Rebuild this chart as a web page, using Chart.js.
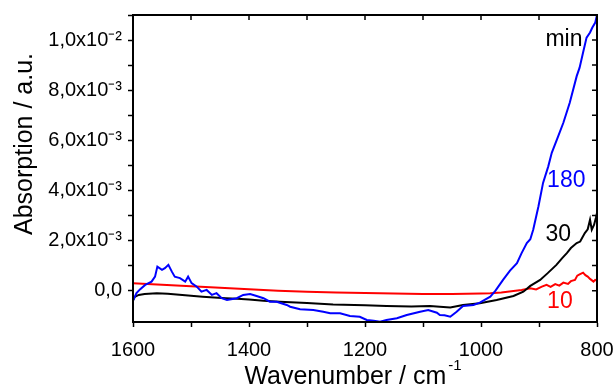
<!DOCTYPE html>
<html><head><meta charset="utf-8">
<script src="https://cdn.jsdelivr.net/npm/chart.js@4/dist/chart.umd.min.js"></script>
<style>html,body{margin:0;padding:0;background:#fff}#wrap{width:616px;height:388px}</style>
</head><body><div id="wrap"><canvas id="c" width="616" height="388"></canvas></div>
<script>
// Wavenumber (cm^-1) and absorption values
const wn180 = [1600,1594,1588,1579,1568,1562,1558,1550,1545,1539,1533,1528,1519,1510,1505,1499,1490,1482,1473,1464,1456,1447,1438,1421,1410,1398,1387,1375,1364,1352,1347,1335,1329,1312,1289,1272,1260,1243,1226,1209,1197,1185,1174,1163,1145,1128,1105,1091,1076,1071,1063,1053,1042,1031,1013,1002,984,975,962,950,938,930,921,915,910,901,893,884,878,867,858,847,835,830,824,818,812,808,803,800];
const abs180 = [-0.40e-3,-0.10e-3,0.05e-3,0.23e-3,0.36e-3,0.56e-3,0.96e-3,0.83e-3,0.90e-3,1.03e-3,0.76e-3,0.56e-3,0.50e-3,0.36e-3,0.56e-3,0.30e-3,0.16e-3,-0.04e-3,0.03e-3,-0.17e-3,-0.10e-3,-0.30e-3,-0.37e-3,-0.30e-3,-0.17e-3,-0.13e-3,-0.21e-3,-0.30e-3,-0.44e-3,-0.44e-3,-0.48e-3,-0.57e-3,-0.64e-3,-0.74e-3,-0.77e-3,-0.84e-3,-0.90e-3,-0.90e-3,-1.01e-3,-1.04e-3,-1.17e-3,-1.20e-3,-1.24e-3,-1.17e-3,-1.10e-3,-0.97e-3,-0.84e-3,-0.77e-3,-0.88e-3,-0.97e-3,-0.98e-3,-1.04e-3,-0.84e-3,-0.61e-3,-0.57e-3,-0.48e-3,-0.24e-3,0.00e-3,0.43e-3,0.80e-3,1.10e-3,1.50e-3,1.90e-3,2.05e-3,2.43e-3,3.36e-3,4.30e-3,4.96e-3,5.50e-3,6.16e-3,6.70e-3,7.50e-3,8.56e-3,8.90e-3,9.50e-3,10.10e-3,10.30e-3,10.50e-3,10.70e-3,11.00e-3];

const wn30 = [1600,1597,1590,1580,1559,1540,1520,1500,1480,1460,1440,1420,1400,1375,1347,1300,1255,1200,1163,1120,1088,1071,1053,1031,1002,973,944,927,915,898,885,870,860,852,845,835,829,821,816,812,809,805,802,800];
const abs30 = [-0.40e-3,-0.25e-3,-0.17e-3,-0.13e-3,-0.10e-3,-0.12e-3,-0.16e-3,-0.20e-3,-0.24e-3,-0.27e-3,-0.30e-3,-0.32e-3,-0.35e-3,-0.40e-3,-0.44e-3,-0.49e-3,-0.55e-3,-0.58e-3,-0.61e-3,-0.63e-3,-0.61e-3,-0.64e-3,-0.67e-3,-0.57e-3,-0.50e-3,-0.37e-3,-0.21e-3,-0.04e-3,0.19e-3,0.43e-3,0.70e-3,1.03e-3,1.30e-3,1.50e-3,1.70e-3,1.90e-3,1.96e-3,2.30e-3,2.45e-3,2.83e-3,2.43e-3,2.63e-3,2.90e-3,3.10e-3];

const wn10 = [1600,1575,1550,1500,1450,1400,1350,1300,1250,1200,1150,1100,1050,1000,984,965,944,930,915,905,895,887,880,872,865,858,850,845,838,834,830,824,820,816,812,806,803,800];
const abs10 = [0.30e-3,0.27e-3,0.24e-3,0.18e-3,0.12e-3,0.06e-3,0.00e-3,-0.04e-3,-0.07e-3,-0.09e-3,-0.11e-3,-0.13e-3,-0.13e-3,-0.11e-3,-0.10e-3,-0.07e-3,-0.01e-3,0.03e-3,0.10e-3,0.05e-3,0.16e-3,0.23e-3,0.15e-3,0.26e-3,0.20e-3,0.32e-3,0.27e-3,0.38e-3,0.43e-3,0.60e-3,0.65e-3,0.72e-3,0.62e-3,0.56e-3,0.47e-3,0.36e-3,0.43e-3,0.42e-3];

// Curve labels: text, wavenumber, absorption (anchor of text), colour
const labelTexts = ['min','180','30','10'];
const labelWn = [889,886,889,886];
const labelAbs = [9.75e-3,4.15e-3,2.0e-3,-0.70e-3];
const labelColors = ['#000000','#0000ff','#000000','#ff0000'];

// Axis titles
const xTitle = 'Wavenumber / cm';
const xTitleSup = '-1';
const yTitle = 'Absorption / a.u.';

const FONT = "'Liberation Sans', Arial, Helvetica, sans-serif";
const pts = (xs, ys) => xs.map((x,i)=>({x:x, y:ys[i]}));

const frame = {
  id:'frame',
  afterDatasetsDraw(chart){
    const {ctx, chartArea:a, scales:{x,y}} = chart;
    ctx.save();
    ctx.strokeStyle='#000'; ctx.lineWidth=2;
    ctx.strokeRect(a.left, a.top, a.right-a.left, a.bottom-a.top);
    ctx.lineWidth=1.5;
    ctx.beginPath();
    x.ticks.forEach(t=>{const px=x.getPixelForValue(t.value); ctx.moveTo(px,a.top); ctx.lineTo(px,a.top+5);});
    y.ticks.forEach(t=>{const py=y.getPixelForValue(t.value); ctx.moveTo(a.right,py); ctx.lineTo(a.right-5,py);});
    ctx.stroke();
    ctx.font = "23px " + FONT;
    ctx.textAlign='left'; ctx.textBaseline='alphabetic';
    labelTexts.forEach((s,i)=>{
      ctx.fillStyle=labelColors[i];
      ctx.fillText(s, x.getPixelForValue(labelWn[i]), y.getPixelForValue(labelAbs[i]));
    });
    // axis titles
    ctx.fillStyle='#000';
    ctx.font = "25px " + FONT;
    const w1 = ctx.measureText(xTitle).width;
    ctx.font = "15px " + FONT;
    const w2 = ctx.measureText(xTitleSup).width;
    const cx = (a.left + a.right)/2 - 12;
    const x0 = cx - (w1 + 2 + w2)/2;
    ctx.font = "25px " + FONT;
    ctx.fillText(xTitle, x0, 384);
    ctx.font = "15px " + FONT;
    ctx.fillText(xTitleSup, x0 + w1 + 2, 370);
    ctx.save();
    ctx.translate(32, 144);
    ctx.rotate(-Math.PI/2);
    ctx.font = "25px " + FONT;
    ctx.textAlign='center';
    ctx.fillText(yTitle, 0, 0);
    ctx.restore();
    ctx.restore();
  }
};

const sup = {'-':'\u207B','1':'\u00B9','2':'\u00B2','3':'\u00B3'};

new Chart(document.getElementById('c'), {
  type:'line',
  data:{datasets:[
    {label:'180 min', data:pts(wn180,abs180), borderColor:'#0000ff', borderWidth:2, pointRadius:0, tension:0},
    {label:'30 min', data:pts(wn30,abs30), borderColor:'#000000', borderWidth:2, pointRadius:0, tension:0},
    {label:'10 min', data:pts(wn10,abs10), borderColor:'#ff0000', borderWidth:2, pointRadius:0, tension:0}
  ]},
  options:{
    responsive:false, animation:false,
    layout:{padding:{top:15,right:19,left:0,bottom:0}},
    plugins:{legend:{display:false}, tooltip:{enabled:false}},
    scales:{
      x:{type:'linear', reverse:true, min:800, max:1600,
        afterFit(s){s.height=66; s.paddingLeft=0; s.paddingRight=0;},
        border:{display:true,color:'#000',width:2},
        grid:{drawOnChartArea:false, drawTicks:true, tickLength:5, tickColor:'#000', tickWidth:1.5},
        ticks:{stepSize:100, maxRotation:0, autoSkip:false, color:'#000', padding:11, font:{family:FONT,size:20},
          callback:(v)=> (Math.round(v)%200===0 ? String(Math.round(v)) : '')},
        title:{display:false}
      },
      y:{type:'linear', min:-1.25e-3, max:1.1e-2,
        afterFit(s){s.width=133; s.paddingTop=0; s.paddingBottom=0;},
        afterBuildTicks(s){ s.ticks = s.ticks.filter(t=>Math.abs(t.value/1e-3-Math.round(t.value/1e-3))<1e-6); },
        border:{display:true,color:'#000',width:2},
        grid:{drawOnChartArea:false, drawTicks:true, tickLength:5, tickColor:'#000', tickWidth:1.5},
        ticks:{stepSize:1e-3, autoSkip:false, color:'#000', padding:6, font:{family:FONT,size:20},
          callback:(v)=>{const k=Math.round(v/1e-3); if(k%2!==0) return ''; if(k===0) return '0,0';
            if(k===10) return '1,0x10'+sup['-']+sup['2']; return k+',0x10'+sup['-']+sup['3'];}},
        title:{display:false}
      }
    }
  },
  plugins:[frame]
});
</script></body></html>
